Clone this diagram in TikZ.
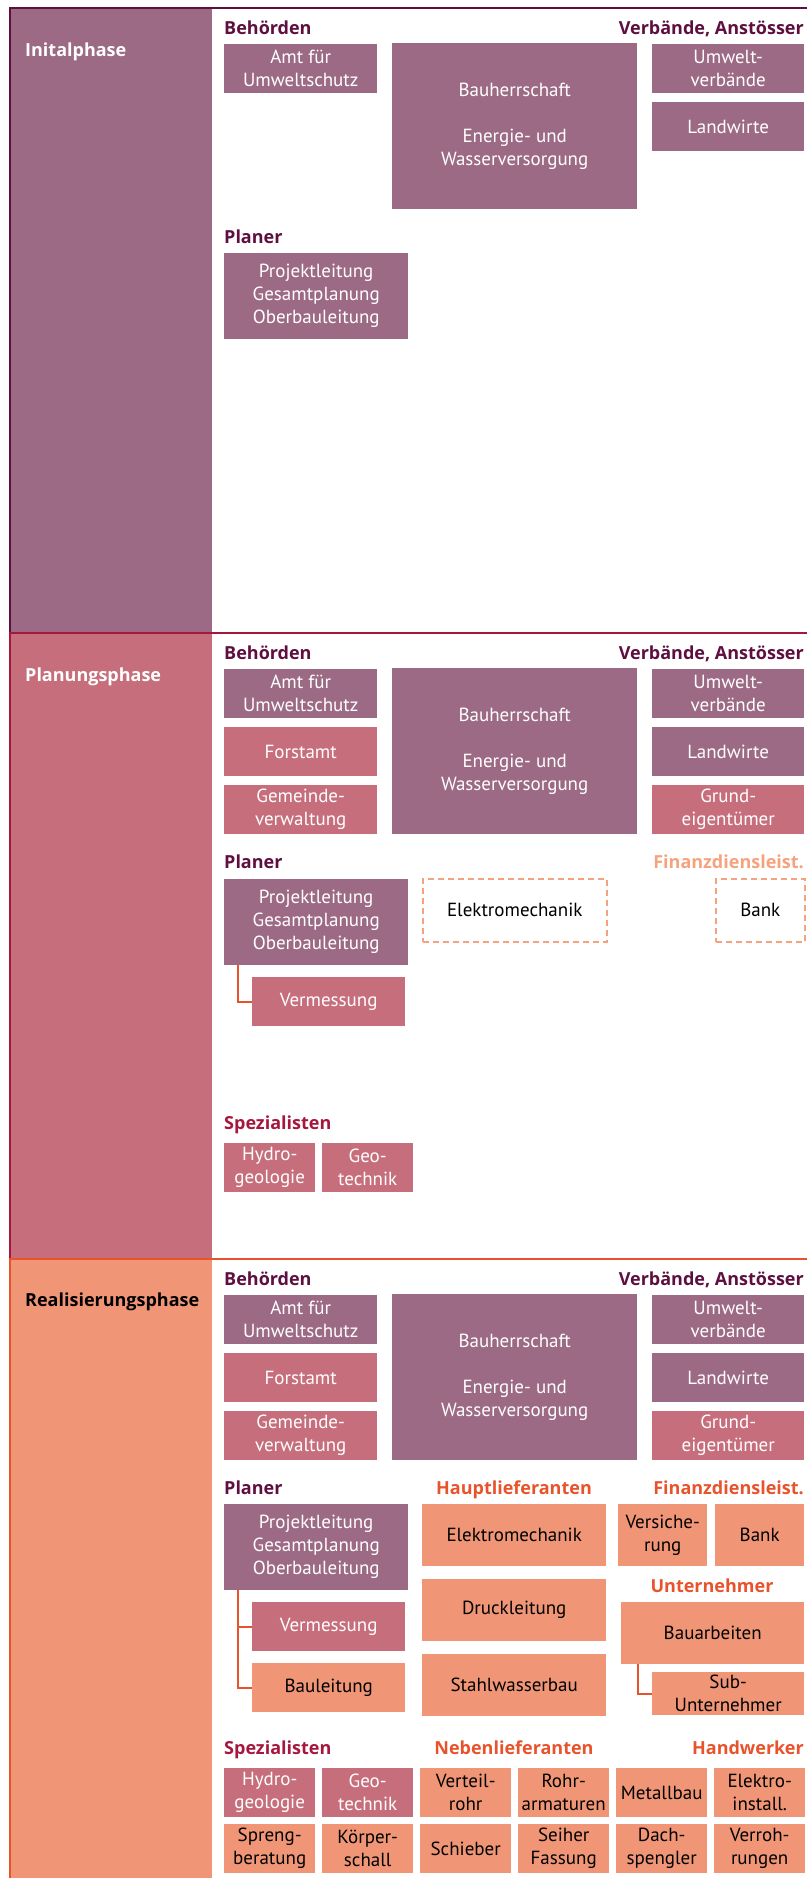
\documentclass[tikz,border=0pt]{standalone}
\usepackage{fontspec}
\setmainfont{PT Sans}
\newfontfamily\labelfont{Open Sans}
\usetikzlibrary{calc,positioning}
\definecolor{mauve}{HTML}{9C6A85}
\definecolor{rose}{HTML}{C76E7C}
\definecolor{salmon}{HTML}{F09677}
\definecolor{wine}{HTML}{5E0F3F}
\definecolor{crimson}{HTML}{A6173D}
\definecolor{orangered}{HTML}{E8532B}
\definecolor{lightsalmon}{HTML}{F5A27F}
\def\colx{224}
\def\rgtx{804}

\begin{document}
\begin{tikzpicture}
    [
        x=1pt, y=-1pt,
        box/.style={rectangle, inner sep=0pt, anchor=north west, align=center,
            font=\fontsize{19}{23}\selectfont},
        mbox/.style={box, fill=mauve, text=white},
        rbox/.style={box, fill=rose, text=white},
        sbox/.style={box, fill=salmon, text=black},
        dbox/.style={box, draw=lightsalmon, line width=1.5pt, dash pattern=on 6pt off 4pt},
        small/.style={minimum width=91pt, minimum height=49pt},
        wide/.style={minimum width=153pt, minimum height=49pt},
        big/.style={minimum width=184pt, minimum height=62pt},
        grp/.style={inner sep=0pt, text height=13pt, text depth=0pt,
            font=\labelfont\fontsize{18}{20}\selectfont\bfseries},
        phase/.style={grp, anchor=west},
        link/.style={draw=orangered, line width=2pt}
    ]
    % phase columns
    \fill[mauve] (10,8) rectangle (212,633);
    \fill[rose] (10,633) rectangle (212,1259);
    \fill[salmon] (10,1259) rectangle (212,1878);
    \draw[wine, line width=2.5pt] (807,8) -- (10,8) -- (10,633);
    \draw[crimson, line width=2.5pt] (807,633) -- (10,633) -- (10,1259);
    \draw[orangered, line width=2.5pt] (807,1259) -- (10,1259) -- (10,1878);

    \node[phase, text=white] (ph1) at (25,50) {Initalphase};
    \node[phase, text=white] (ph2) at (25,675) {Planungsphase};
    \node[phase, text=black] (ph3) at (25,1300) {Realisierungsphase};

    % parts every phase has
    \foreach \p/\dy in {1/0, 2/625, 3/1251}
    {
        \node[grp, wine, anchor=west] (beh\p) at (\colx,28+\dy) {Behörden};
        \node[grp, wine, anchor=east] (verb\p) at (\rgtx,28+\dy) {Verbände, Anstösser};
        \node[mbox, wide] (amt\p) at (\colx,44+\dy) {Amt für\\Umweltschutz};
        \node[mbox, minimum width=245pt, minimum height=166pt] (bau\p) at (392,43+\dy)
            {Bauherrschaft\\[23pt]Energie- und\\Wasserversorgung};
        \node[mbox, minimum width=152pt, minimum height=49pt] (umw\p) at (652,44+\dy) {Umwelt-\\verbände};
        \node[mbox, minimum width=152pt, minimum height=49pt] (land\p) at (652,102+\dy) {Landwirte};
    }
    \foreach \p/\dy in {2/625, 3/1251}
    {
        \node[rbox, wide] (forst\p) at (\colx,102+\dy) {Forstamt};
        \node[rbox, wide] (gem\p) at (\colx,160+\dy) {Gemeinde-\\verwaltung};
        \node[rbox, minimum width=152pt, minimum height=49pt] (grund\p) at (652,160+\dy) {Grund-\\eigentümer};
    }

    % Initalphase
    \node[grp, wine, anchor=west] (plan1) at (\colx,237) {Planer};
    \node[mbox, minimum width=184pt, minimum height=86pt] (proj1) at (\colx,253)
        {Projektleitung\\Gesamtplanung\\Oberbauleitung};

    % Planungsphase
    \node[grp, wine, anchor=west] (plan2) at (\colx,862) {Planer};
    \node[grp, lightsalmon, anchor=east] (fin2) at (\rgtx,862) {Finanzdiensleist.};
    \node[mbox, minimum width=184pt, minimum height=86pt] (proj2) at (\colx,879)
        {Projektleitung\\Gesamtplanung\\Oberbauleitung};
    \node[dbox, minimum width=184pt, minimum height=63pt] (elek2) at (422,878) {Elektromechanik};
    \node[dbox, minimum width=89pt, minimum height=63pt] (bank2) at (715,878) {Bank};
    \node[rbox, wide] (verm2) at (252,977) {Vermessung};
    \draw[link] ($(proj2.south west)+(14,0)$) |- (verm2.west);

    \node[grp, crimson, anchor=west] (spez2) at (\colx,1123) {Spezialisten};
    \node[rbox, small] (hydro2) at (\colx,1143) {Hydro-\\geologie};
    \node[rbox, small] (geo2) at (322,1143) {Geo-\\technik};

    % Realisierungsphase
    \node[grp, wine, anchor=west] (plan3) at (\colx,1488) {Planer};
    \node[grp, orangered] (haupt3) at (514,1488) {Hauptlieferanten};
    \node[grp, orangered, anchor=east] (fin3) at (\rgtx,1488) {Finanzdiensleist.};
    \node[mbox, minimum width=184pt, minimum height=86pt] (proj3) at (\colx,1504)
        {Projektleitung\\Gesamtplanung\\Oberbauleitung};
    \node[rbox, wide] (verm3) at (252,1602) {Vermessung};
    \node[sbox, wide] (baul3) at (252,1663) {Bauleitung};
    \draw[link] ($(proj3.south west)+(14,0)$) |- (baul3.west);
    \draw[link] ($(proj3.south west)+(14,0)$) |- (verm3.west);

    \node[sbox, big] (elek3) at (422,1504) {Elektromechanik};
    \node[sbox, big] (druck3) at (422,1579) {Druckleitung};
    \node[sbox, big] (stahl3) at (422,1654) {Stahlwasserbau};
    \node[sbox, minimum width=89pt, minimum height=62pt] (vers3) at (618,1504) {Versiche-\\rung};
    \node[sbox, minimum width=89pt, minimum height=62pt] (bank3) at (715,1504) {Bank};

    \node[grp, orangered] (unt3) at (712,1586) {Unternehmer};
    \node[sbox, minimum width=183pt, minimum height=62pt] (bauarb3) at (621,1602) {Bauarbeiten};
    \node[sbox, minimum width=152pt, minimum height=43pt] (sub3) at (652,1672) {Sub-\\Unternehmer};
    \draw[link] ($(bauarb3.south west)+(17,0)$) |- (sub3.west);

    \node[grp, crimson, anchor=west] (spez3) at (\colx,1748) {Spezialisten};
    \node[grp, orangered] (neben3) at (514,1748) {Nebenlieferanten};
    \node[grp, orangered, anchor=east] (hand3) at (\rgtx,1748) {Handwerker};
    \node[rbox, small] (hydro3) at (\colx,1768) {Hydro-\\geologie};
    \node[rbox, small] (geo3) at (322,1768) {Geo-\\technik};
    \foreach \txt [count=\i from 2] in {{Verteil-\\rohr},{Rohr-\\armaturen},Metallbau,{Elektro-\\install.}}
        \node[sbox, small] (ra\i) at (\colx+98*\i,1768) {\txt};
    \foreach \txt [count=\i from 0] in {{Spreng-\\beratung},{Körper-\\schall},Schieber,{Seiher\\Fassung},{Dach-\\spengler},{Verroh-\\rungen}}
        \node[sbox, small] (rb\i) at (\colx+98*\i,1824) {\txt};

    \pgfresetboundingbox
    \useasboundingbox (0,0) rectangle (807,1878);
\end{tikzpicture}
\end{document}
